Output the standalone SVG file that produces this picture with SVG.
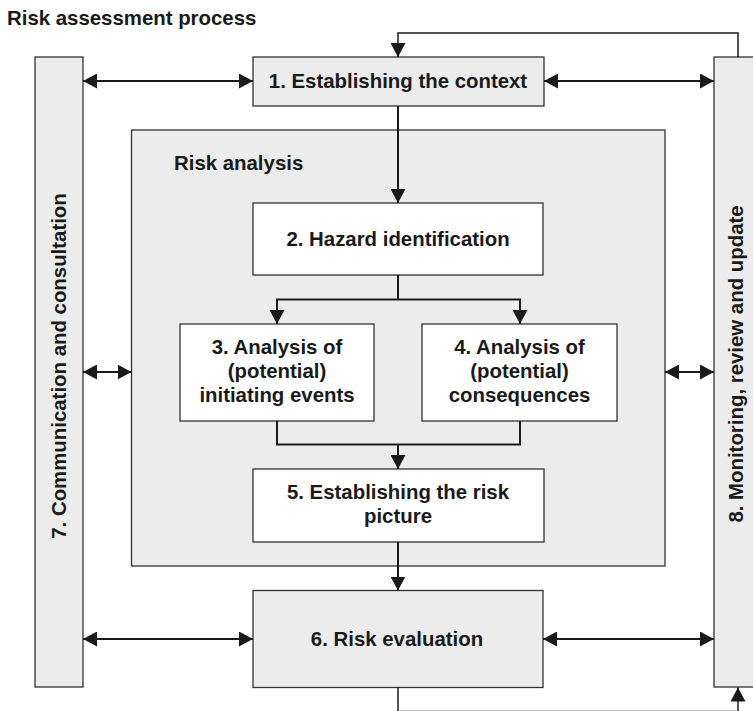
<svg xmlns="http://www.w3.org/2000/svg" width="753" height="711" viewBox="0 0 753 711">
<style>
.box{fill:#ebeceb;stroke:#333;stroke-width:1.3}
.wbox{fill:#fff;stroke:#333;stroke-width:1.3}
.t{font-family:"Liberation Sans",Arial,sans-serif;font-weight:bold;font-size:20.4px;fill:#1a1a1a}
.c{text-anchor:middle}
.ln{fill:none;stroke:#1a1a1a;stroke-width:2}
.fb{fill:none;stroke:#1a1a1a;stroke-width:1.5}
</style>
<defs>
<marker id="ah" markerUnits="userSpaceOnUse" markerWidth="14" markerHeight="15" refX="14" refY="7.5" orient="auto-start-reverse">
<path d="M0,0 L14,7.5 L0,15 z" fill="#1a1a1a"/>
</marker>
</defs>
<rect width="753" height="711" fill="#fff"/>
<text class="t" x="7" y="25">Risk assessment process</text>
<g id="n7">
<rect class="box" x="35" y="57" width="48" height="630"/>
<text class="t c" transform="translate(66,366) rotate(-90)">7. Communication and consultation</text>
</g>
<g id="n8">
<rect class="box" x="714" y="57" width="45" height="630"/>
<text class="t c" transform="translate(743,364) rotate(-90)">8. Monitoring, review and update</text>
</g>
<g id="riskanalysis">
<rect class="box" x="131.5" y="130" width="533.5" height="436"/>
<text class="t" x="174" y="170">Risk analysis</text>
</g>
<g id="n1">
<rect class="box" x="253" y="57" width="291" height="49"/>
<text class="t c" x="398" y="88">1. Establishing the context</text>
</g>
<g id="n2">
<rect class="wbox" x="253" y="203" width="290" height="72"/>
<text class="t c" x="398" y="246">2. Hazard identification</text>
</g>
<g id="n3">
<rect class="wbox" x="180" y="324" width="194" height="97"/>
<text class="t c" x="277" y="354">3. Analysis of</text>
<text class="t c" x="277" y="378">(potential)</text>
<text class="t c" x="277" y="402">initiating events</text>
</g>
<g id="n4">
<rect class="wbox" x="422" y="324" width="195" height="97"/>
<text class="t c" x="519.5" y="354">4. Analysis of</text>
<text class="t c" x="519.5" y="378">(potential)</text>
<text class="t c" x="519.5" y="402">consequences</text>
</g>
<g id="n5">
<rect class="wbox" x="253" y="469" width="291" height="73"/>
<text class="t c" x="398" y="499">5. Establishing the risk</text>
<text class="t c" x="398" y="523">picture</text>
</g>
<g id="n6">
<rect class="box" x="253" y="590.5" width="290" height="97"/>
<text class="t c" x="397" y="646">6. Risk evaluation</text>
</g>
<g id="connectors">
<path class="ln" d="M83,81 H253" marker-start="url(#ah)" marker-end="url(#ah)"/>
<path class="ln" d="M544,81 H714" marker-start="url(#ah)" marker-end="url(#ah)"/>
<path class="ln" d="M83,372 H131.5" marker-start="url(#ah)" marker-end="url(#ah)"/>
<path class="ln" d="M665,372 H714" marker-start="url(#ah)" marker-end="url(#ah)"/>
<path class="ln" d="M83,639 H253" marker-start="url(#ah)" marker-end="url(#ah)"/>
<path class="ln" d="M543,639 H714" marker-start="url(#ah)" marker-end="url(#ah)"/>
<path class="fb" d="M738,57 V33 H398 V57" marker-end="url(#ah)"/>
<path class="ln" d="M398,106 V203" marker-end="url(#ah)"/>
<path class="ln" d="M398,275 V299.5"/>
<path class="ln" d="M398,299.5 H277 V324" marker-end="url(#ah)"/>
<path class="ln" d="M398,299.5 H520 V324" marker-end="url(#ah)"/>
<path class="ln" d="M277,421 V444.5 H520 V421"/>
<path class="ln" d="M398,444.5 V469" marker-end="url(#ah)"/>
<path class="ln" d="M398,542 V590.5" marker-end="url(#ah)"/>
<path class="fb" d="M398,687.5 V711.5 H738 V687.5" marker-end="url(#ah)"/>
</g>
</svg>
